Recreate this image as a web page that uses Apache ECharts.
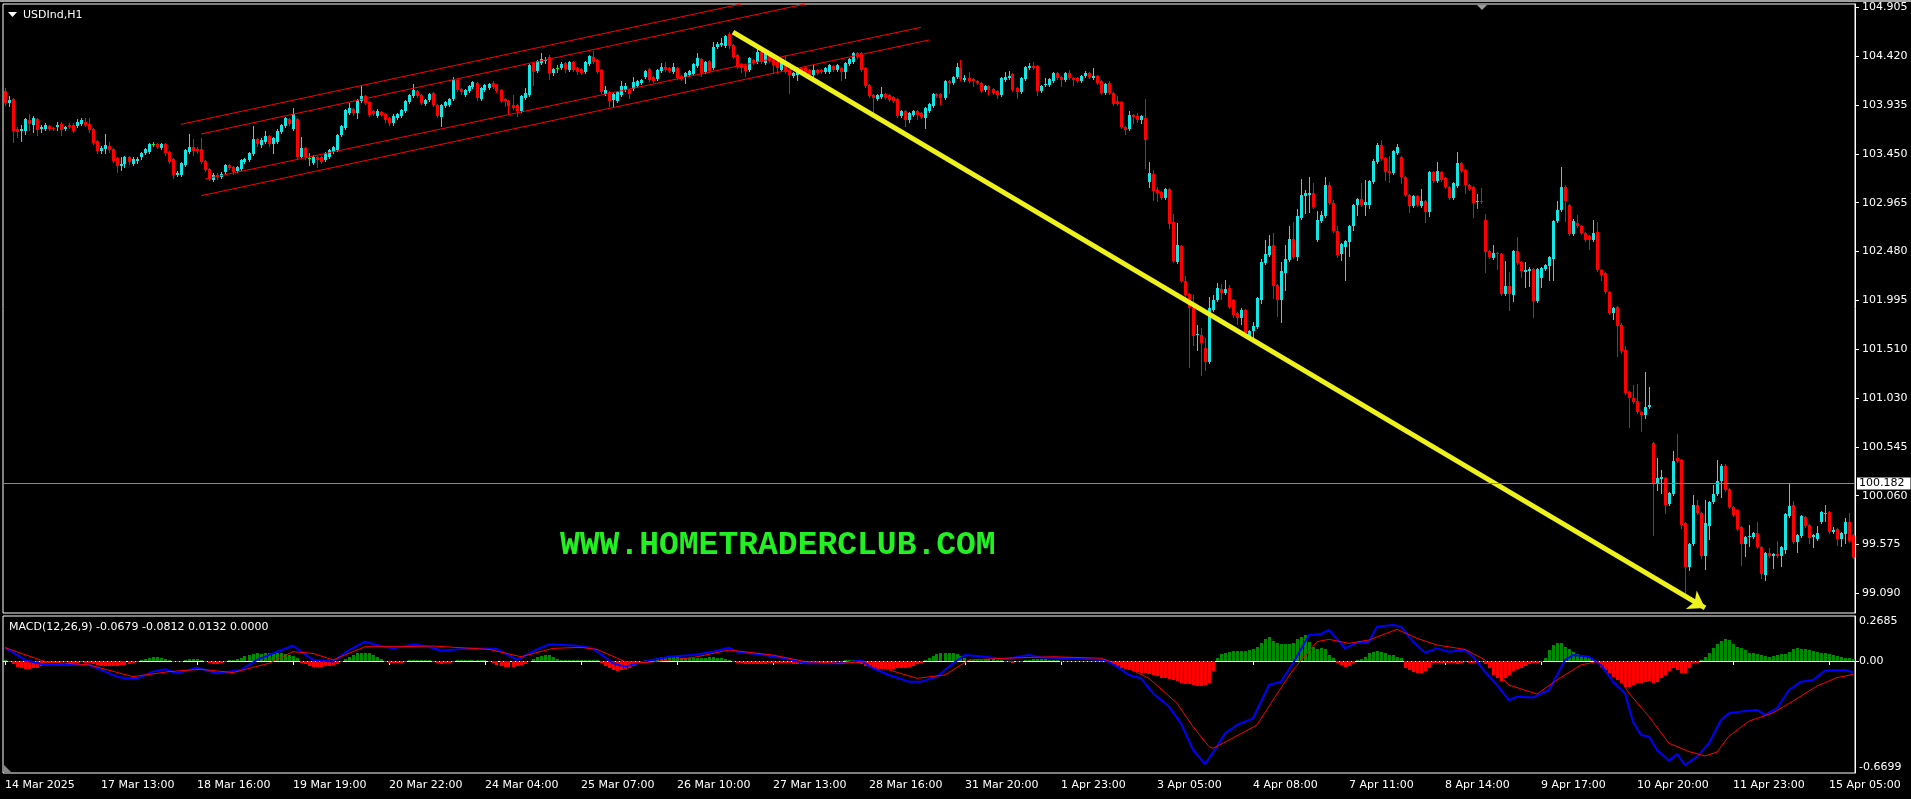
<!DOCTYPE html>
<html><head><meta charset="utf-8">
<script src="https://cdn.jsdelivr.net/npm/echarts@6/dist/echarts.min.js"></script>
<style>html,body{margin:0;padding:0;background:#000;overflow:hidden}#c{width:1911px;height:799px}</style>
</head><body><div id="c"></div>
<script>
const symbolLabel = 'USDInd,H1';
const macdLabel = 'MACD(12,26,9) -0.0679 -0.0812 0.0132 0.0000';
const watermark = 'WWW.HOMETRADERCLUB.COM';
const timeLabels = ['14 Mar 2025','17 Mar 13:00','18 Mar 16:00','19 Mar 19:00','20 Mar 22:00','24 Mar 04:00','25 Mar 07:00','26 Mar 10:00','27 Mar 13:00','28 Mar 16:00','31 Mar 20:00','1 Apr 23:00','3 Apr 05:00','4 Apr 08:00','7 Apr 11:00','8 Apr 14:00','9 Apr 17:00','10 Apr 20:00','11 Apr 23:00','15 Apr 05:00'];
const labelEvery = 24;
const priceTicks = [99.090,99.575,100.060,100.545,101.030,101.510,101.995,102.480,102.965,103.450,103.935,104.420,104.905];
const priceMin = 98.897, priceMax = 104.935;
const macdTicks = [-0.6699, 0, 0.2685];
const macdMin = -0.6699, macdMax = 0.2685;
const levelLine = 100.182;

// [open, close, low, high] per H1 bar
const ohlcA = [
[104.07,103.95,103.93,104.10],[103.95,103.98,103.92,104.02],[103.99,103.68,103.57,104.00],[103.70,103.67,103.62,103.72],[103.68,103.70,103.58,103.74],
[103.68,103.79,103.65,103.80],[103.78,103.75,103.69,103.84],[103.74,103.80,103.67,103.82],[103.79,103.69,103.64,103.80],[103.70,103.72,103.67,103.74],
[103.70,103.74,103.69,103.76],[103.73,103.70,103.69,103.74],[103.71,103.70,103.69,103.72],[103.72,103.74,103.69,103.77],[103.75,103.69,103.64,103.77],
[103.70,103.72,103.69,103.73],[103.74,103.72,103.71,103.76],[103.74,103.68,103.67,103.76],[103.73,103.77,103.72,103.79],[103.75,103.78,103.74,103.80],
[103.77,103.74,103.73,103.80],[103.75,103.69,103.67,103.80],[103.70,103.56,103.55,103.71],[103.58,103.48,103.46,103.59],[103.48,103.51,103.46,103.53],
[103.50,103.54,103.46,103.65],[103.53,103.49,103.47,103.57],[103.50,103.38,103.37,103.51],[103.41,103.33,103.27,103.42],[103.33,103.35,103.29,103.42],
[103.35,103.42,103.32,103.43],[103.42,103.37,103.35,103.43],[103.35,103.40,103.34,103.42],[103.38,103.40,103.36,103.42],[103.42,103.46,103.40,103.47],
[103.46,103.50,103.45,103.51],[103.47,103.55,103.46,103.56],[103.55,103.55,103.53,103.57],[103.55,103.52,103.51,103.56],[103.51,103.55,103.50,103.56],
[103.55,103.46,103.44,103.56],[103.47,103.37,103.36,103.48],[103.40,103.24,103.21,103.41],[103.24,103.26,103.23,103.28],[103.24,103.36,103.23,103.37],
[103.34,103.49,103.33,103.50],[103.47,103.52,103.46,103.65],[103.52,103.48,103.44,103.60],[103.50,103.48,103.46,103.52],[103.50,103.37,103.36,103.61],
[103.38,103.29,103.28,103.39],[103.30,103.20,103.19,103.31],[103.19,103.24,103.18,103.26],[103.24,103.22,103.20,103.26],[103.22,103.25,103.21,103.27],
[103.27,103.34,103.26,103.35],[103.34,103.31,103.30,103.35],[103.32,103.27,103.25,103.33],[103.28,103.32,103.27,103.33],[103.30,103.39,103.29,103.40],
[103.37,103.40,103.36,103.41],[103.39,103.46,103.38,103.47],[103.45,103.60,103.44,103.73],[103.60,103.55,103.53,103.61],[103.54,103.59,103.52,103.61],
[103.57,103.63,103.56,103.68],[103.63,103.55,103.53,103.64],[103.55,103.61,103.46,103.62],[103.57,103.68,103.56,103.70],[103.67,103.74,103.66,103.75],
[103.73,103.80,103.72,103.81],[103.79,103.75,103.74,103.80],[103.70,103.84,103.69,103.90],[103.79,103.42,103.40,103.80],[103.42,103.51,103.41,103.62],
[103.51,103.42,103.40,103.52],[103.41,103.41,103.34,103.46],[103.36,103.42,103.35,103.44],[103.42,103.39,103.32,103.43],[103.42,103.37,103.36,103.43],
[103.39,103.46,103.38,103.47],[103.42,103.49,103.41,103.50],[103.47,103.52,103.46,103.53],[103.49,103.64,103.48,103.65],[103.64,103.73,103.63,103.74],
[103.71,103.88,103.70,103.89],[103.85,103.90,103.84,103.95],[103.89,103.85,103.83,103.90],[103.85,103.98,103.80,103.99],[103.97,104.02,103.96,104.12],
[104.02,103.95,103.94,104.03],[103.96,103.83,103.82,103.97],[103.87,103.84,103.83,103.88],[103.82,103.87,103.81,103.89],[103.86,103.83,103.82,103.87],
[103.84,103.78,103.77,103.85],[103.80,103.76,103.74,103.81],[103.76,103.82,103.74,103.84],[103.80,103.84,103.79,103.85],[103.82,103.88,103.81,103.89],
[103.87,103.97,103.86,103.98],[103.96,104.03,103.95,104.04],[104.02,104.08,104.01,104.14],[104.07,104.02,104.01,104.08],[104.03,103.95,103.94,104.04],
[103.94,103.98,103.93,103.99],[103.98,104.04,103.97,104.05],[104.05,103.93,103.92,104.06],[103.93,103.82,103.81,103.94],[103.81,103.93,103.73,103.94],
[103.92,103.96,103.91,103.97],[103.93,103.99,103.92,104.00],[103.99,104.18,103.98,104.21],[104.18,104.08,104.07,104.19],[104.09,104.06,104.04,104.10],
[104.03,104.08,104.02,104.09],[104.07,104.12,104.06,104.13],[104.11,104.16,104.10,104.17],[104.15,104.00,103.98,104.16]
];
const ohlcB = [
[103.99,104.10,103.98,104.11],[104.08,104.13,104.07,104.14],[104.10,104.14,104.09,104.15],[104.15,104.11,104.10,104.17],[104.13,104.07,104.06,104.14],
[104.08,103.97,103.96,104.09],[103.99,103.97,103.92,104.00],[103.97,103.92,103.85,103.98],[103.93,103.90,103.89,104.03],[103.93,103.87,103.82,103.94],
[103.87,104.02,103.86,104.03],[104.00,104.05,103.99,104.10],[104.03,104.33,104.02,104.34],[104.35,104.26,104.13,104.36],[104.27,104.37,104.26,104.38],
[104.35,104.39,104.34,104.45],[104.37,104.38,104.35,104.41],[104.41,104.25,104.19,104.43],[104.25,104.29,104.23,104.30],[104.30,104.30,104.26,104.33],
[104.30,104.34,104.29,104.36],[104.35,104.29,104.26,104.36],[104.28,104.36,104.27,104.37],[104.36,104.28,104.27,104.37],[104.30,104.26,104.24,104.31],
[104.29,104.25,104.24,104.30],[104.26,104.36,104.25,104.37],[104.34,104.42,104.33,104.43],[104.41,104.36,104.35,104.47],[104.38,104.26,104.25,104.39],
[104.28,104.06,104.05,104.29],[104.04,104.08,104.03,104.12],[104.06,103.97,103.92,104.07],[103.98,104.04,103.92,104.05],[103.97,104.06,103.96,104.07],
[104.03,104.12,104.02,104.17],[104.08,104.12,104.07,104.15],[104.08,104.04,104.00,104.09],[104.09,104.16,104.08,104.21],[104.12,104.17,104.11,104.18],
[104.15,104.18,104.14,104.19],[104.21,104.27,104.20,104.28],[104.29,104.18,104.17,104.30],[104.21,104.17,104.16,104.22],[104.19,104.28,104.18,104.29],
[104.27,104.31,104.26,104.35],[104.31,104.28,104.27,104.36],[104.30,104.27,104.26,104.31],[104.26,104.31,104.25,104.35],[104.30,104.20,104.19,104.31],
[104.22,104.19,104.18,104.23],[104.21,104.25,104.15,104.26],[104.23,104.27,104.22,104.28],[104.24,104.34,104.23,104.35],[104.32,104.40,104.31,104.45],
[104.39,104.25,104.22,104.40],[104.26,104.36,104.25,104.37],[104.37,104.27,104.26,104.38],[104.30,104.51,104.29,104.56],[104.51,104.54,104.50,104.56],
[104.53,104.55,104.52,104.60],[104.52,104.62,104.51,104.63],[104.64,104.52,104.50,104.66],[104.53,104.41,104.40,104.54],[104.43,104.31,104.30,104.44],
[104.34,104.30,104.26,104.35],[104.32,104.27,104.22,104.33],[104.28,104.40,104.27,104.41],[104.38,104.35,104.34,104.39],[104.36,104.46,104.35,104.51],
[104.46,104.36,104.35,104.51],[104.35,104.45,104.34,104.46],[104.45,104.37,104.36,104.46],[104.38,104.33,104.25,104.39],[104.36,104.30,104.25,104.37],
[104.28,104.36,104.27,104.37],[104.36,104.26,104.25,104.43],[104.28,104.23,104.05,104.29],[104.22,104.25,104.21,104.26],[104.23,104.30,104.18,104.31],
[104.30,104.26,104.25,104.31],[104.30,104.25,104.24,104.31],[104.28,104.23,104.22,104.29],[104.23,104.28,104.22,104.33],[104.28,104.25,104.24,104.29],
[104.28,104.26,104.25,104.29],[104.26,104.30,104.25,104.31],[104.26,104.33,104.25,104.34],[104.32,104.28,104.27,104.33],[104.28,104.33,104.27,104.34],
[104.30,104.26,104.18,104.31],[104.26,104.35,104.20,104.36],[104.34,104.39,104.33,104.40],[104.36,104.45,104.35,104.46],[104.45,104.41,104.40,104.46],
[104.45,104.28,104.27,104.46],[104.30,104.12,104.11,104.31],[104.13,104.02,104.01,104.14],[104.03,104.00,103.85,104.04],[103.99,104.03,103.98,104.04],
[104.01,104.04,104.00,104.11],[104.04,104.00,103.99,104.05],[104.03,103.98,103.97,104.04],[104.01,103.97,103.96,104.02],[103.99,103.82,103.81,104.00],
[103.82,103.87,103.81,103.88],[103.87,103.78,103.73,103.88],[103.78,103.85,103.77,103.86],[103.83,103.87,103.82,103.88],[103.87,103.83,103.79,103.88],
[103.85,103.81,103.80,103.86],[103.80,103.90,103.71,103.91],[103.87,103.94,103.86,103.95],[103.92,104.04,103.91,104.05],[104.04,104.02,104.01,104.05],
[104.04,104.00,103.94,104.05],[104.00,104.17,103.99,104.18],[104.17,104.15,104.05,104.18]
];
const ohlcC = [
[104.15,104.21,104.14,104.22],[104.21,104.31,104.20,104.35],[104.30,104.19,104.18,104.38],[104.18,104.20,104.17,104.23],[104.20,104.17,104.16,104.26],
[104.19,104.17,104.12,104.20],[104.17,104.15,104.14,104.18],[104.15,104.07,104.06,104.16],[104.08,104.12,104.07,104.13],[104.12,104.08,104.04,104.13],
[104.09,104.05,104.04,104.10],[104.07,104.03,104.00,104.08],[104.03,104.20,104.02,104.21],[104.18,104.21,104.17,104.26],[104.20,104.22,104.19,104.27],
[104.24,104.08,104.07,104.25],[104.10,104.06,104.00,104.11],[104.06,104.20,104.05,104.21],[104.19,104.31,104.18,104.32],[104.30,104.32,104.29,104.35],
[104.32,104.30,104.29,104.36],[104.32,104.07,104.03,104.33],[104.07,104.12,104.06,104.13],[104.13,104.14,104.12,104.20],[104.13,104.19,104.12,104.20],
[104.17,104.25,104.16,104.26],[104.25,104.20,104.19,104.26],[104.21,104.18,104.12,104.22],[104.18,104.25,104.17,104.26],[104.25,104.20,104.19,104.28],
[104.20,104.18,104.13,104.21],[104.20,104.17,104.16,104.21],[104.17,104.22,104.16,104.23],[104.22,104.25,104.21,104.27],[104.25,104.21,104.20,104.26],
[104.20,104.22,104.19,104.30],[104.22,104.15,104.14,104.23],[104.17,104.05,104.04,104.18],[104.05,104.14,104.04,104.15],[104.15,104.05,104.04,104.17],
[104.05,103.94,103.93,104.06],[103.97,103.94,103.93,104.02],[103.96,103.72,103.71,103.97],[103.72,103.69,103.65,103.73],[103.70,103.83,103.69,103.87],
[103.83,103.81,103.76,103.84],[103.82,103.78,103.77,103.85],[103.78,103.82,103.76,103.83],[103.80,103.59,103.31,103.99],[103.17,103.26,103.12,103.37],
[103.25,103.08,102.99,103.29],[103.09,103.06,102.98,103.12],[103.07,103.01,103.00,103.08],[103.01,103.10,103.00,103.11],[103.10,102.75,102.71,103.11],
[102.77,102.39,102.38,102.85],[102.38,102.55,102.37,102.76],[102.54,102.19,102.18,102.55],[102.19,102.05,102.04,102.24],[102.06,101.92,101.34,102.07],
[101.92,101.64,101.55,102.05],[101.65,101.66,101.50,101.75],[101.65,101.57,101.26,101.72],[101.52,101.39,101.31,101.62],[101.39,101.92,101.38,102.03],
[101.90,102.00,101.89,102.05],[102.00,102.12,101.99,102.17],[102.11,102.07,102.01,102.16],[102.07,102.11,102.06,102.20],[102.12,101.93,101.92,102.15],
[102.00,101.85,101.83,102.01],[101.87,101.82,101.76,101.88],[101.82,101.90,101.76,101.92],[101.90,101.64,101.63,101.91],[101.64,101.69,101.60,101.70],
[101.69,101.74,101.62,101.78],[101.73,102.02,101.72,102.03],[102.00,102.38,101.97,102.41],[102.37,102.46,102.36,102.60],[102.45,102.54,102.44,102.64],
[102.55,102.14,102.02,102.66],[102.15,102.00,101.84,102.16],[102.00,102.29,101.78,102.38],[102.27,102.41,102.10,102.55],[102.40,102.61,102.39,102.73],
[102.61,102.43,102.42,102.77],[102.43,102.83,102.40,102.90],[102.81,103.04,102.80,103.20],[103.03,103.06,102.86,103.09],[103.04,103.06,102.87,103.22],
[103.06,102.92,102.91,103.16],[102.60,102.79,102.59,102.88],[102.78,102.84,102.77,102.88],[102.83,103.14,102.82,103.22],[103.14,102.96,102.95,103.17],
[102.96,102.68,102.67,102.99],[102.68,102.45,102.43,102.73],[102.46,102.56,102.40,102.57],[102.53,102.59,102.20,102.60],[102.58,102.73,102.44,102.74],
[102.73,102.94,102.69,102.95],[102.94,103.00,102.84,103.01],[103.00,102.94,102.93,103.16],[102.94,102.97,102.84,103.19],[102.94,103.18,102.91,103.19],
[103.17,103.38,103.16,103.40],[103.37,103.54,103.36,103.56],[103.54,103.40,103.39,103.59],[103.41,103.27,103.19,103.42],[103.28,103.26,103.17,103.43],
[103.26,103.48,103.25,103.49],[103.46,103.52,103.45,103.55],[103.42,103.22,103.16,103.43],[103.22,103.04,103.03,103.23],[103.04,102.93,102.87,103.05],
[102.93,103.03,102.92,103.04],[103.03,102.94,102.93,103.04]
];
const ohlcD = [
[102.93,102.98,102.92,103.10],[102.98,102.87,102.77,102.99],[102.87,103.27,102.83,103.28],[103.27,103.18,103.17,103.28],[103.18,103.28,103.17,103.37],
[103.27,103.19,103.18,103.28],[103.21,103.12,103.11,103.22],[103.12,103.01,103.00,103.13],[103.01,103.16,103.00,103.17],[103.13,103.36,103.12,103.47],
[103.36,103.28,103.27,103.37],[103.29,103.14,103.06,103.30],[103.14,103.10,103.09,103.15],[103.12,102.96,102.82,103.13],[102.98,102.98,102.91,103.05],
[102.98,102.97,102.96,103.11],[102.79,102.48,102.28,102.85],[102.49,102.43,102.42,102.50],[102.42,102.47,102.41,102.55],[102.47,102.46,102.31,102.48],
[102.46,102.06,102.05,102.47],[102.06,102.14,102.05,102.39],[102.14,102.06,101.90,102.28],[102.05,102.49,101.99,102.50],[102.49,102.37,102.36,102.62],
[102.38,102.29,102.23,102.39],[102.28,102.30,102.13,102.38],[102.29,102.31,102.14,102.33],[102.31,101.99,101.83,102.32],[101.99,102.31,101.98,102.32],
[102.22,102.32,102.13,102.33],[102.31,102.35,102.30,102.36],[102.34,102.43,102.20,102.44],[102.41,102.78,102.20,102.79],[102.78,102.89,102.77,102.98],
[102.89,103.12,102.88,103.32],[103.12,102.98,102.78,103.14],[102.94,102.65,102.64,102.95],[102.65,102.78,102.64,102.80],[102.76,102.73,102.72,102.84],
[102.73,102.66,102.65,102.74],[102.66,102.60,102.59,102.67],[102.63,102.60,102.51,102.64],[102.60,102.66,102.59,102.79],[102.67,102.30,102.29,102.77],
[102.30,102.25,102.20,102.31],[102.27,102.08,102.07,102.28],[102.08,101.87,101.86,102.09],[101.87,101.92,101.81,101.93],[101.93,101.74,101.45,101.94],
[101.75,101.49,101.47,101.77],[101.50,101.08,101.07,101.54],[101.09,101.03,100.74,101.10],[101.03,100.99,100.98,101.16],[101.00,100.89,100.88,101.17],
[100.89,100.86,100.70,100.90],[100.86,100.94,100.83,101.29],[100.94,100.96,100.93,101.14],[100.58,100.18,99.67,100.59],[100.18,100.24,100.12,100.43],
[100.23,100.25,100.09,100.31],[100.24,99.97,99.89,100.25],[99.98,100.09,99.97,100.10],[100.08,100.40,100.07,100.50],[100.43,100.40,100.39,100.67],
[100.41,99.77,99.74,100.42],[99.79,99.35,99.08,99.80],[99.35,99.58,99.32,99.59],[99.58,99.97,99.57,100.07],[99.97,99.89,99.88,100.02],
[99.89,99.46,99.44,99.90],[99.46,99.79,99.33,100.02],[99.76,100.00,99.63,100.01],[100.00,100.08,99.99,100.17],[100.08,100.21,100.07,100.41],
[100.21,100.35,100.05,100.37],[100.35,100.12,100.11,100.37],[100.13,99.95,99.94,100.14],[99.95,99.87,99.86,99.96],[99.92,99.73,99.72,99.93],
[99.75,99.58,99.37,99.76],[99.58,99.65,99.46,99.66],[99.65,99.66,99.56,99.77],[99.65,99.69,99.64,99.70],[99.69,99.55,99.54,99.80],
[99.55,99.28,99.24,99.56],[99.27,99.49,99.22,99.50],[99.49,99.46,99.45,99.54],[99.46,99.48,99.34,99.49],[99.48,99.46,99.45,99.61],
[99.46,99.55,99.36,99.56],[99.52,99.88,99.49,99.89],[99.86,99.96,99.85,100.18],[99.97,99.60,99.59,100.01],[99.60,99.67,99.50,99.68],
[99.66,99.86,99.65,99.87],[99.85,99.76,99.75,99.86],[99.77,99.64,99.59,99.78],[99.65,99.67,99.55,99.68],[99.63,99.69,99.62,99.76],
[99.80,99.90,99.79,99.91],[99.89,99.89,99.81,99.97],[99.90,99.70,99.69,99.91],[99.70,99.72,99.69,99.75],[99.73,99.63,99.57,99.74],
[99.63,99.69,99.56,99.70],[99.68,99.80,99.59,99.84],[99.80,99.61,99.60,99.89],[99.67,99.45,99.44,99.68]
];

// MACD main line and signal line, read as [bar, value]
const macdLine = [[0,0.079],[5,0.006],[10,-0.024],[21,-0.024],[28,-0.094],[30,-0.104],[33,-0.104],[37,-0.064],[40,-0.050],[43,-0.074],[48,-0.040],[53,-0.074],[59,-0.054],[63,0.006],[68,0.055],[72,0.091],[77,0.006],[82,-0.004],[86,0.065],[90,0.115],[93,0.095],[97,0.075],[102,0.099],[106,0.085],[109,0.061],[116,0.075],[123,0.071],[128,0.006],[133,0.069],[136,0.099],[143,0.091],[147,0.075],[152,-0.014],[155,-0.034],[160,-0.004],[166,0.025],[172,0.035],[177,0.055],[181,0.079],[183,0.055],[189,0.039],[195,0.016],[200,-0.014],[209,-0.014],[214,0.002],[217,-0.044],[221,-0.084],[226,-0.124],[229,-0.124],[233,-0.094],[237,-0.014],[240,0.035],[245,0.025],[250,0.010],[256,0.035],[259,0.021],[267,0.016],[275,0.006],[278,-0.034],[281,-0.084],[284,-0.104],[287,-0.193],[291,-0.273],[294,-0.373],[297,-0.532],[300,-0.616],[303,-0.512],[305,-0.433],[308,-0.383],[312,-0.343],[316,-0.144],[319,-0.124],[322,-0.014],[326,0.155],[329,0.161],[331,0.185],[334,0.105],[335,0.075],[338,0.109],[341,0.115],[343,0.205],[347,0.215],[349,0.205],[352,0.115],[355,0.049],[358,0.075],[361,0.055],[365,0.065],[367,0.025],[370,-0.064],[373,-0.144],[376,-0.234],[378,-0.214],[382,-0.218],[386,-0.174],[390,0.006],[392,0.035],[396,0.025],[399,-0.024],[402,-0.124],[405,-0.193],[407,-0.363],[409,-0.443],[411,-0.452],[413,-0.532],[416,-0.596],[418,-0.556],[420,-0.622],[423,-0.572],[426,-0.492],[429,-0.353],[431,-0.313],[434,-0.303],[438,-0.293],[440,-0.323],[443,-0.283],[446,-0.174],[449,-0.124],[452,-0.114],[455,-0.058],[460,-0.054],[462,-0.068]];
const signalLine = [[0,0.079],[10,-0.004],[21,-0.024],[32,-0.094],[41,-0.064],[49,-0.050],[57,-0.070],[66,-0.014],[72,0.055],[77,0.045],[82,0.006],[90,0.085],[99,0.085],[107,0.089],[121,0.069],[129,0.025],[137,0.075],[144,0.081],[148,0.069],[155,-0.004],[160,-0.010],[172,0.020],[181,0.065],[192,0.035],[200,-0.004],[209,-0.014],[215,-0.004],[221,-0.054],[228,-0.104],[235,-0.084],[241,0.006],[250,0.016],[262,0.025],[274,0.016],[280,-0.034],[286,-0.104],[293,-0.253],[297,-0.393],[301,-0.512],[302,-0.522],[306,-0.473],[313,-0.383],[317,-0.234],[322,-0.054],[328,0.115],[331,0.129],[336,0.105],[341,0.125],[348,0.189],[353,0.135],[358,0.095],[365,0.069],[370,0.006],[376,-0.144],[383,-0.198],[388,-0.114],[394,-0.024],[398,-0.004],[402,-0.044],[406,-0.193],[411,-0.333],[416,-0.492],[421,-0.542],[425,-0.568],[428,-0.545],[431,-0.45],[436,-0.36],[442,-0.31],[447,-0.24],[453,-0.15],[458,-0.10],[462,-0.081]];

// MACD histogram (main minus signal), one value per bar
const osma = [].concat(
[0.0,-0.005],
[-0.02,-0.035,-0.045,-0.05,-0.048,-0.045,-0.04,-0.03],
[-0.015,-0.012,-0.01,-0.01,-0.008,-0.008,-0.01,-0.012,-0.01,-0.008,-0.01],
[-0.015,-0.02,-0.025,-0.03,-0.032,-0.03,-0.03,-0.028,-0.025,-0.022,-0.018,-0.012,-0.006],
[0.005,0.012,0.018,0.024,0.025,0.02,0.014,0.006],
[-0.004,-0.006,-0.003],
[0.006,0.012,0.014,0.01,0.005],
[-0.006,-0.012,-0.016,-0.018,-0.014,-0.008],
[0.003,0.006,0.01],
[0.02,0.03,0.035,0.042,0.045,0.044,0.046,0.045,0.044,0.046,0.045,0.04,0.036,0.03,0.02],
[-0.01,-0.02,-0.03,-0.035,-0.038,-0.036,-0.033,-0.028,-0.022,-0.016,-0.008],
[0.012,0.025,0.038,0.045,0.05,0.05,0.045,0.035,0.022,0.01],
[-0.008,-0.012,-0.014,-0.012,-0.01,-0.006],
[0.003,0.005,0.006,0.005,0.004,0.002],
[-0.008,-0.014,-0.016,-0.014,-0.01,-0.005],
[0.002,0.004,0.004,0.003,0.002,0.003,0.002,0.001],
[-0.008,-0.015,-0.022,-0.03,-0.035,-0.038,-0.036,-0.032,-0.025,-0.016,-0.008],
[0.01,0.022,0.032,0.036,0.034,0.025,0.014],
[0.008,0.006,0.005,0.005,0.004,0.004,0.003,0.002,0.001,0.001],
[-0.012,-0.03,-0.045,-0.055,-0.058,-0.056,-0.05,-0.04,-0.03,-0.015],
[-0.005,0.0],
[0.006,0.012,0.018,0.022,0.025,0.025,0.024,0.022,0.02,0.018,0.016,0.015,0.016,0.018,0.02,0.022,0.022,0.02,0.016,0.01,0.005],
[-0.005,-0.01,-0.015,-0.018,-0.02,-0.02,-0.019,-0.018,-0.016,-0.015,-0.014,-0.012,-0.012,-0.012,-0.014,-0.016,-0.018,-0.016,-0.014,-0.012,-0.01,-0.008,-0.006,-0.005,-0.004,-0.003,-0.002,-0.001,0.004,0.008,0.006],
[-0.01,-0.02,-0.03,-0.038,-0.044,-0.048,-0.05,-0.05,-0.048,-0.046,-0.045,-0.042,-0.04,-0.036,-0.03,-0.02,-0.01],
[0.005,0.015,0.028,0.04,0.048,0.05,0.05,0.046,0.04,0.03,0.018,0.008],
[0.004,0.006,0.008,0.01,0.012,0.01,0.006,0.003,-0.004,-0.008,-0.01,-0.008,-0.004,0.004,0.008,0.012,0.014,0.012,0.01,0.008,0.004,0.002,-0.002,-0.004,-0.006,-0.006,-0.005,-0.004,-0.004,-0.006,-0.008,-0.006,-0.004,-0.002],
[-0.01,-0.02,-0.03,-0.04,-0.05,-0.055,-0.06,-0.065,-0.07,-0.075,-0.08,-0.085,-0.09,-0.1,-0.105,-0.11,-0.115,-0.12,-0.13,-0.135,-0.14,-0.145,-0.15,-0.15,-0.145,-0.13,-0.06],
[0.02,0.04,0.05,0.055,0.06,0.06,0.058,0.06,0.065,0.07,0.085,0.11,0.13,0.14,0.12,0.11,0.1,0.1,0.1,0.11,0.13],
[0.145,0.155,0.115,0.085,0.07,0.075,0.07,0.035,0.02],
[-0.014,-0.024,-0.038,-0.03,-0.014],
[0.006,0.01,0.025,0.045,0.055,0.061,0.055,0.045,0.035,0.035,0.025,0.015],
[-0.044,-0.055,-0.065,-0.074,-0.07,-0.06,-0.04],
[-0.015,-0.012,-0.015,-0.012,-0.01,-0.015,-0.018,-0.012,-0.008,-0.01,-0.014,-0.01,-0.008,-0.02],
[-0.044,-0.084,-0.104,-0.118,-0.104,-0.084,-0.06,-0.05,-0.04,-0.03,-0.02,-0.015,-0.01,-0.005],
[0.015,0.065,0.095,0.11,0.105,0.085,0.07,0.055,0.04,0.03,0.025,0.015,0.006],
[-0.014,-0.034,-0.054,-0.074,-0.094,-0.114,-0.134,-0.158,-0.154,-0.144,-0.134,-0.13,-0.124,-0.118,-0.13,-0.124,-0.104,-0.084,-0.058,-0.044,-0.054,-0.074,-0.07,-0.044,-0.014,-0.01,0.0],
[0.025,0.045,0.075,0.1,0.12,0.13,0.125,0.1,0.085,0.075,0.065,0.05,0.045,0.04,0.035,0.03,0.025,0.028,0.035,0.04,0.04,0.055,0.07,0.075,0.07,0.07,0.065,0.06,0.055,0.05,0.045,0.042,0.038,0.032,0.025,0.02,0.016,0.0132]
);

// drawn objects: [bar, price] end points
const channelLines = [
  [[44,103.742],[183.75,104.935]],
  [[49,103.646],[200,104.935]],
  [[50,103.200],[229,104.704]],
  [[49,103.034],[231,104.578]]
];
const arrowLine = [[181.5,104.657],[424.5,98.947]];

const ohlc = ohlcA.concat(ohlcB, ohlcC, ohlcD);
const cats = ohlc.map((d, i) => String(i));
const FONT = 'DejaVu Sans';
const BULL = '#14e6e6', BEAR = '#ff0000', DOJI = '#00ff00';
const HGREEN = '#008a00', HRED = '#ff0000';

function renderCandle(params, api) {
  const i = api.value(0), o = api.value(1), c = api.value(2), l = api.value(3), h = api.value(4);
  const pO = api.coord([i, o]);
  const cx = Math.floor(pO[0]) + 0.5;
  const yO = pO[1], yC = api.coord([i, c])[1], yL = api.coord([i, l])[1], yH = api.coord([i, h])[1];
  const col = c > o ? BULL : (c < o ? BEAR : DOJI);
  const top = Math.round(Math.min(yO, yC)), bot = Math.round(Math.max(yO, yC));
  return {type: 'group', children: [
    {type: 'line', shape: {x1: cx, y1: Math.round(yH), x2: cx, y2: Math.round(yL) + 1}, style: {stroke: col, lineWidth: 1}},
    {type: 'rect', shape: {x: cx - 1.5, y: top, width: 3, height: Math.max(1, bot - top)}, style: {fill: col}}
  ]};
}
function renderHist(params, api) {
  const i = api.value(0), v = api.value(1);
  const p = api.coord([i, v]), z = api.coord([i, 0]);
  const cx = Math.floor(p[0]) + 0.5;
  let y0 = Math.round(z[1]), y1 = Math.round(p[1]);
  if (y0 === y1) y1 = v >= 0 ? y0 - 1 : y0 + 1;
  return {type: 'rect', shape: {x: cx - 1.5, y: Math.min(y0, y1), width: 3, height: Math.abs(y1 - y0)}, style: {fill: v >= 0 ? HGREEN : HRED}};
}
const isLabel = (idx) => idx % labelEvery === 0;

const chart = echarts.init(document.getElementById('c'), null, {renderer: 'canvas'});
chart.setOption({
  backgroundColor: '#000',
  animation: false,
  grid: [
    {left: 3, top: 4, width: 1852, height: 609, show: true, borderColor: '#ffffff', borderWidth: 1, backgroundColor: '#000'},
    {left: 3, top: 616, width: 1852, height: 157, show: true, borderColor: '#ffffff', borderWidth: 1, backgroundColor: '#000'}
  ],
  xAxis: [
    {type: 'category', gridIndex: 0, data: cats, boundaryGap: true, axisLine: {show: false}, axisTick: {show: false}, axisLabel: {show: false}, splitLine: {show: false}},
    {type: 'category', gridIndex: 1, data: cats, boundaryGap: true,
      axisLine: {show: true, lineStyle: {color: '#ffffff'}},
      axisTick: {show: true, alignWithLabel: true, interval: isLabel, length: 4, lineStyle: {color: '#ffffff'}},
      axisLabel: {show: true, interval: isLabel, formatter: (v, idx) => timeLabels[idx / labelEvery] || '', color: '#ffffff', fontFamily: FONT, fontSize: 11, align: 'left', margin: 7},
      splitLine: {show: false}}
  ],
  yAxis: [
    {type: 'value', gridIndex: 0, position: 'right', min: priceMin, max: priceMax, splitLine: {show: false},
      axisLine: {show: true, lineStyle: {color: '#ffffff'}},
      axisTick: {show: true, customValues: priceTicks, length: 4, lineStyle: {color: '#ffffff'}},
      axisLabel: {customValues: priceTicks, formatter: (v) => v.toFixed(3), color: '#ffffff', fontFamily: FONT, fontSize: 11, margin: 7}},
    {type: 'value', gridIndex: 1, position: 'right', min: macdMin, max: macdMax, splitLine: {show: false},
      axisLine: {show: true, lineStyle: {color: '#ffffff'}},
      axisTick: {show: true, customValues: [0], length: 4, lineStyle: {color: '#ffffff'}},
      axisLabel: {customValues: macdTicks, formatter: (v) => v === 0 ? '0.00' : v.toFixed(4), color: '#ffffff', fontFamily: FONT, fontSize: 11, margin: 4,
        verticalAlignMaxLabel: 'top', verticalAlignMinLabel: 'bottom'}}
  ],
  series: [
    {type: 'custom', name: 'candles', xAxisIndex: 0, yAxisIndex: 0, clip: true, renderItem: renderCandle,
      encode: {x: 0, y: [1, 2, 3, 4]}, data: ohlc.map((d, i) => [i, d[0], d[1], d[2], d[3]]), z: 3},
    {type: 'line', name: 'channel', xAxisIndex: 0, yAxisIndex: 0, data: [], silent: true,
      markLine: {silent: true, symbol: ['none', 'none'], label: {show: false}, animation: false,
        lineStyle: {color: '#ff0000', width: 1, type: 'solid'},
        data: channelLines.map(s => [{coord: s[0]}, {coord: s[1]}])}},
    {type: 'line', name: 'arrow', xAxisIndex: 0, yAxisIndex: 0, data: [], silent: true, z: 5,
      markLine: {silent: true, symbol: ['none', 'arrow'], symbolSize: 16, label: {show: false}, animation: false,
        lineStyle: {color: '#eef21c', width: 5, type: 'solid'},
        data: [[{coord: arrowLine[0]}, {coord: arrowLine[1]}]]}},
    {type: 'line', name: 'level', xAxisIndex: 0, yAxisIndex: 0, data: [], silent: true,
      markLine: {silent: true, symbol: ['none', 'none'], animation: false,
        lineStyle: {color: '#7f8a97', width: 1, type: 'solid'},
        label: {show: true, position: 'end', distance: 2, formatter: levelLine.toFixed(3), color: '#000000', backgroundColor: '#ffffff', padding: [1, 6, 0, 2], fontFamily: FONT, fontSize: 11},
        data: [{yAxis: levelLine}]}},
    {type: 'custom', name: 'hist', xAxisIndex: 1, yAxisIndex: 1, clip: true, renderItem: renderHist,
      encode: {x: 0, y: 1}, data: osma.map((v, i) => [i, v])},
    {type: 'line', name: 'signal', xAxisIndex: 1, yAxisIndex: 1, data: signalLine, showSymbol: false, symbol: 'none',
      lineStyle: {color: '#ff0000', width: 1}, z: 4},
    {type: 'line', name: 'macd', xAxisIndex: 1, yAxisIndex: 1, data: macdLine, showSymbol: false, symbol: 'none',
      lineStyle: {color: '#0000ff', width: 2}, z: 3}
  ],
  graphic: [
    {type: 'rect', z: 100, shape: {x: 0, y: 0, width: 1911, height: 2}, style: {fill: '#a0a0a0'}},
    {type: 'polygon', z: 100, shape: {points: [[1477, 5], [1487, 5], [1482, 10]]}, style: {fill: '#9a9a9a'}},
    {type: 'polygon', z: 100, shape: {points: [[8, 12], [17, 12], [12.5, 17]]}, style: {fill: '#ffffff'}},
    {type: 'text', z: 100, x: 23, y: 15, style: {text: symbolLabel, fill: '#ffffff', font: '11px "DejaVu Sans"', verticalAlign: 'middle'}},
    {type: 'text', z: 100, x: 9, y: 627, style: {text: macdLabel, fill: '#ffffff', font: '11px "DejaVu Sans"', verticalAlign: 'middle'}},
    {type: 'polygon', z: 100, shape: {points: [[4, 765], [4, 772], [11, 772]]}, style: {fill: '#8a8a8a'}},
    {type: 'text', z: 100, x: 560, y: 546, style: {text: watermark, fill: '#22f022', font: 'bold 33px "Liberation Mono"', verticalAlign: 'middle'}}
  ]
});
</script>
</body></html>
